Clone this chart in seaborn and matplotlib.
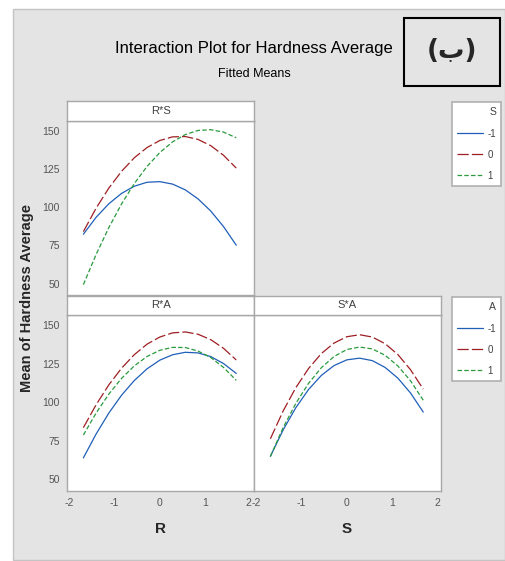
import seaborn as sns
import matplotlib.pyplot as plt
import pandas as pd
from matplotlib.patches import Rectangle
from matplotlib.lines import Line2D

# Style first, fonts after (set_style resets font.family)
sns.set_style("white")
plt.rcParams['font.family'] = ['Liberation Sans Narrow', 'Liberation Sans', 'DejaVu Sans']
plt.rcParams['axes.unicode_minus'] = False

# Data (fitted means at the coded factor settings)
x_levels = [-1.68, -1.40, -1.12, -0.84, -0.56, -0.28, 0.0, 0.28, 0.56, 0.84, 1.12, 1.40, 1.68]
levels = ['-1', '0', '1']

# R*S panel, lines for S
rs_s_m1 = [82.4, 93.5, 102.4, 109.2, 113.9, 116.5, 116.9, 115.3, 111.5, 105.6, 97.6, 87.4, 75.2]
rs_s_0 = [84.1, 99.5, 112.7, 123.7, 132.6, 139.3, 143.9, 146.3, 146.5, 144.6, 140.5, 134.2, 125.8]
rs_s_1 = [49.3, 69.1, 86.8, 102.3, 115.7, 126.9, 136.0, 143.0, 147.8, 150.5, 151.0, 149.4, 145.7]

# R*A panel, lines for A
ra_a_m1 = [64.0, 79.5, 93.1, 104.7, 114.2, 121.8, 127.4, 130.9, 132.5, 132.1, 129.7, 125.2, 118.8]
ra_a_0 = [83.6, 98.5, 111.4, 122.2, 131.0, 137.8, 142.4, 145.1, 145.7, 144.2, 140.7, 135.1, 127.5]
ra_a_1 = [78.8, 93.1, 105.4, 115.6, 123.7, 129.8, 133.8, 135.7, 135.6, 133.3, 129.1, 122.7, 114.3]

# S*A panel, lines for A
sa_a_m1 = [65.0, 82.1, 96.6, 108.4, 117.5, 123.9, 127.6, 128.7, 127.1, 122.7, 115.8, 106.1, 93.7]
sa_a_0 = [76.4, 94.4, 109.6, 122.0, 131.7, 138.5, 142.6, 143.9, 142.4, 138.1, 131.1, 121.2, 108.6]
sa_a_1 = [64.9, 83.6, 99.4, 112.4, 122.5, 129.8, 134.3, 135.9, 134.7, 130.6, 123.7, 114.0, 101.4]

y_ticks = [50, 75, 100, 125, 150]
x_ticks = [-2, -1, 0, 1, 2]

palette = {'-1': '#1f5fb8', '0': '#9e1f23', '1': '#2a9a3c'}
dash_map = {'-1': '', '0': (9, 2.5), '1': (3.6, 1.8)}
LW = 0.9


def long_df(xname, gname, series):
    rows = []
    for lvl, vals in zip(levels, series):
        for xv, yv in zip(x_levels, vals):
            rows.append({xname: xv, gname: lvl, 'Hardness': yv})
    return pd.DataFrame(rows)


W, H = 505, 561


def box(x0, y0, x1, y1):
    # pixel box (top-left origin) -> figure fraction rect
    return [x0 / W, 1 - y1 / H, (x1 - x0) / W, (y1 - y0) / H]


fig = plt.figure(figsize=(W / 100, H / 100), dpi=100)
fig.patch.set_facecolor('white')
fig.patches.append(Rectangle((13 / W, 1 / H), (W - 13) / W, 551 / H, transform=fig.transFigure,
                             facecolor='#e4e4e4', edgecolor='#c4c4c4', linewidth=1, zorder=-5))

panels = [
    ('R*S', box(67, 121, 254, 295), box(67, 101, 254, 121), 'R', 'S', [rs_s_m1, rs_s_0, rs_s_1]),
    ('R*A', box(67, 315, 254, 491), box(67, 296, 254, 315), 'R', 'A', [ra_a_m1, ra_a_0, ra_a_1]),
    ('S*A', box(254, 315, 441, 491), box(254, 296, 441, 315), 'S', 'A', [sa_a_m1, sa_a_0, sa_a_1]),
]

axes = []
for name, rect, srect, xname, gname, series in panels:
    ax = fig.add_axes(rect)
    df = long_df(xname, gname, series)
    sns.lineplot(data=df, x=xname, y='Hardness', hue=gname, style=gname,
                 hue_order=levels, style_order=levels, palette=palette, dashes=dash_map,
                 linewidth=LW, errorbar=None, legend=False, ax=ax)
    ax.set_xlim(-2.04, 2.07)
    ax.set_ylim(42.5, 156.7)
    ax.set_xticks(x_ticks)
    ax.set_yticks(y_ticks)
    ax.set_xlabel('')
    ax.set_ylabel('')
    ax.set_facecolor('white')
    for sp in ax.spines.values():
        sp.set_color('#a8a8a8')
        sp.set_linewidth(1)
    ax.tick_params(direction='out', length=3, width=0.8, color='#999999',
                   labelsize=7.5, labelcolor='#555555', pad=2)

    # strip header
    sax = fig.add_axes(srect)
    sax.set_xticks([])
    sax.set_yticks([])
    sax.set_facecolor('white')
    for sp in sax.spines.values():
        sp.set_color('#a8a8a8')
        sp.set_linewidth(1)
    sax.text(0.5, 0.5, name, ha='center', va='center', fontsize=8, color='#404040',
             transform=sax.transAxes)
    axes.append(ax)

ax_rs, ax_ra, ax_sa = axes
ax_rs.tick_params(bottom=False, labelbottom=False)
ax_sa.tick_params(left=False, labelleft=False)
# the "2" and "-2" meet at the shared edge; keep them from overlapping
ax_ra.get_xticklabels()[-1].set_horizontalalignment('right')


def legend_handles():
    hs = []
    for lvl in levels:
        h = Line2D([], [], color=palette[lvl], linewidth=LW)
        if dash_map[lvl]:
            h.set_dashes(dash_map[lvl])
        hs.append(h)
    return hs


# legends
leg_kw = dict(loc='upper left', frameon=True, fancybox=False, fontsize=7, title_fontsize=7.5,
              alignment='right', handlelength=2.6, handletextpad=0.5, labelspacing=1.15,
              borderpad=0.55, borderaxespad=0, edgecolor='#b0b0b0', framealpha=1,
              labelcolor='#404040')
for title, ytop in [('S', 102), ('A', 297)]:
    leg = fig.legend(handles=legend_handles(), labels=levels, title=title,
                     bbox_to_anchor=(452 / W, 1 - ytop / H), **leg_kw)
    leg.get_frame().set_linewidth(1.2)
    leg.get_title().set_color('#404040')

# titles and labels
fig.text(254 / W, 1 - 48 / H, 'Interaction Plot for Hardness Average', ha='center', va='center',
         fontsize=12, color='black')
fig.text(254 / W, 1 - 74 / H, 'Fitted Means', ha='center', va='center', fontsize=9, color='black')
fig.text(27 / W, 1 - 298 / H, 'Mean of Hardness Average', ha='center', va='center', rotation=90,
         fontsize=10.5, fontweight='bold', family=['Liberation Sans', 'DejaVu Sans'])
fig.text(161 / W, 1 - 529 / H, 'R', ha='center', va='center', fontsize=11, fontweight='bold',
         family=['Liberation Sans', 'DejaVu Sans'])
fig.text(347 / W, 1 - 529 / H, 'S', ha='center', va='center', fontsize=11, fontweight='bold',
         family=['Liberation Sans', 'DejaVu Sans'])

# boxed panel tag
fig.patches.append(Rectangle((404 / W, 1 - 86 / H), 96 / W, 68 / H, transform=fig.transFigure,
                             facecolor='none', edgecolor='black', linewidth=1.5, zorder=2))
fig.text(452 / W, 1 - 51 / H, '(ب)', ha='center', va='center', fontsize=19, fontweight='bold',
         family=['DejaVu Sans'])

fig.savefig('out.png', dpi=100)
